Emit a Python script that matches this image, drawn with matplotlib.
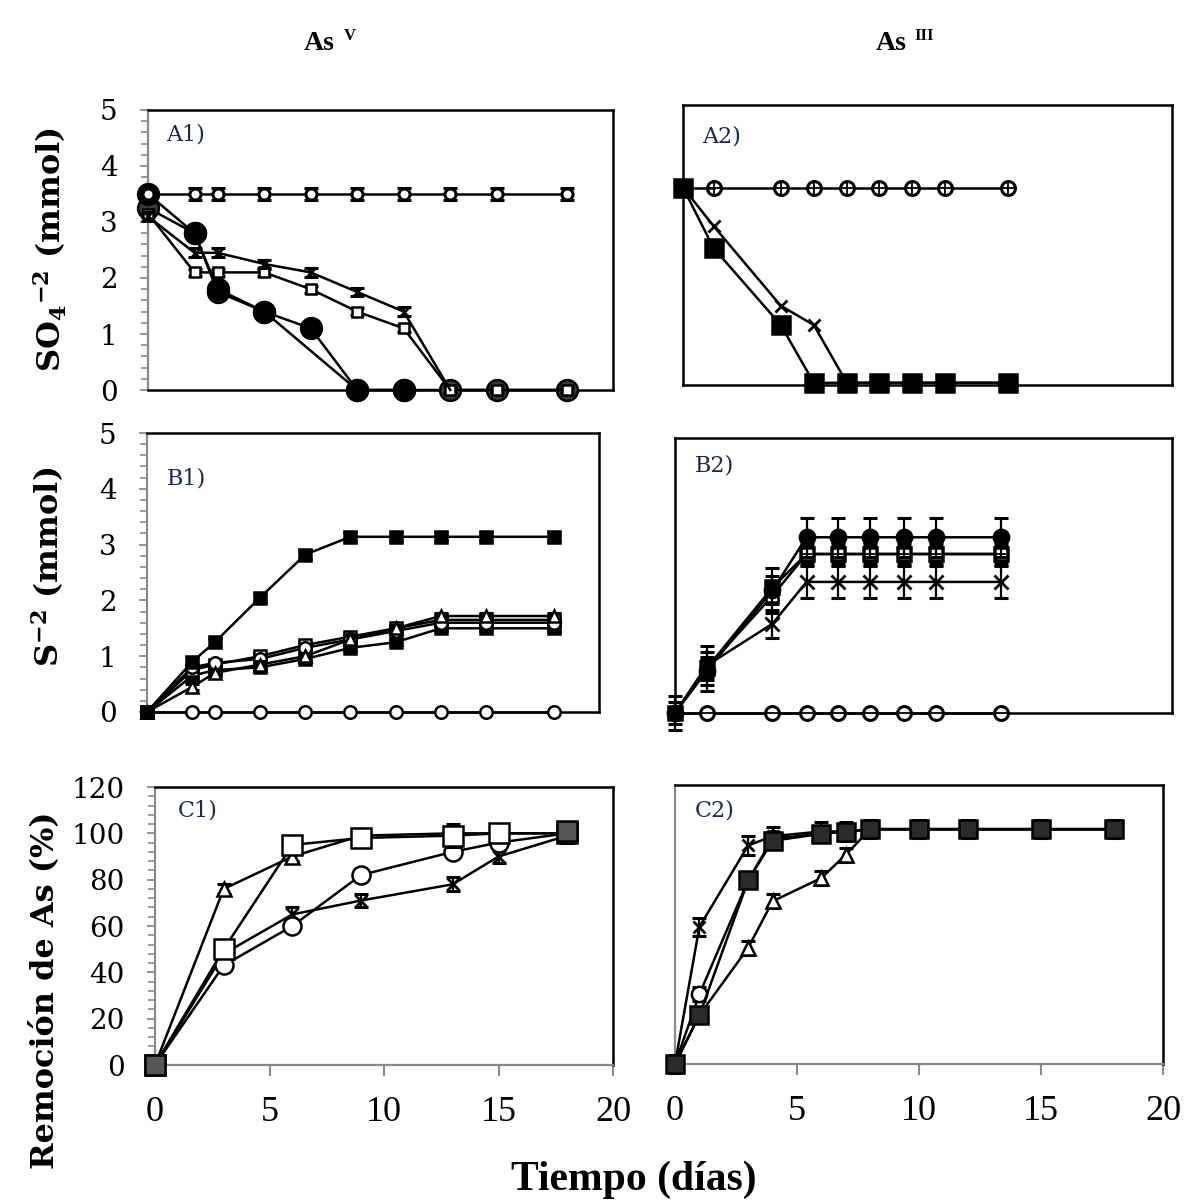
import matplotlib
matplotlib.use('Agg')
import matplotlib.pyplot as plt
from matplotlib.ticker import MultipleLocator

plt.rcParams['mathtext.fontset'] = 'custom'
plt.rcParams['mathtext.rm'] = 'DejaVu Serif:bold'
plt.rcParams['mathtext.bf'] = 'DejaVu Serif:bold'
plt.rcParams['mathtext.it'] = 'DejaVu Serif:bold'

# ---------------- data ----------------
# Panel A1 (sulfate, As V)
A1_days = [0, 2, 3, 5, 7, 9, 11, 13, 15, 18]
A1_ctrl = [3.5, 3.5, 3.5, 3.5, 3.5, 3.5, 3.5, 3.5, 3.5, 3.5]
A1_xm = [3.1, 2.45, 2.45, 2.25, 2.1, 1.75, 1.4, 0, 0, 0]
A1_sq = [3.15, 2.1, 2.1, 2.1, 1.8, 1.4, 1.1, 0, 0, 0]
A1_fc_days = [0, 2, 3, 5, 7, 9, 11]
A1_fc = [3.5, 2.8, 1.8, 1.4, 1.1, 0, 0]
A1_fc2_days = [0, 2, 3, 5, 9, 11, 13, 15, 18]
A1_fc2 = [3.25, 2.8, 1.75, 1.4, 0, 0, 0, 0, 0]

# Panel A2 (sulfate, As III)
A2_days = [0, 1.25, 4, 5.35, 6.7, 8, 9.35, 10.7, 13.3]
A2_ctrl = [3.55, 3.55, 3.55, 3.55, 3.55, 3.55, 3.55, 3.55, 3.55]
A2_fs = [3.55, 2.45, 1.05, 0, 0, 0, 0, 0, 0]
A2_xm = [3.55, 2.85, 1.4, 1.05, 0, 0, 0, 0, 0]

# Panel B1 (sulfide, As V)
B1_days = [0, 2, 3, 5, 7, 9, 11, 13, 15, 18]
B1_ctrl = [0, 0, 0, 0, 0, 0, 0, 0, 0, 0]
B1_fs = [0, 0.9, 1.25, 2.05, 2.82, 3.14, 3.14, 3.14, 3.14, 3.14]
B1_tri = [0, 0.45, 0.7, 0.85, 1.0, 1.3, 1.5, 1.72, 1.72, 1.72]
B1_oc = [0, 0.8, 0.88, 0.95, 1.15, 1.3, 1.45, 1.6, 1.6, 1.6]
B1_sq = [0, 0.75, 0.85, 1.0, 1.2, 1.35, 1.5, 1.65, 1.65, 1.65]
B1_xm = [0, 0.65, 0.75, 0.8, 0.95, 1.15, 1.25, 1.5, 1.5, 1.5]

# Panel B2 (sulfide, As III)
B2_days = [0, 1.3, 4, 5.4, 6.7, 8, 9.4, 10.7, 13.4]
B2_ctrl = [0, 0, 0, 0, 0, 0, 0, 0, 0]
B2_fc = [0, 0.75, 2.2, 3.15, 3.15, 3.15, 3.15, 3.15, 3.15]
B2_fc_err = [0.3, 0.35, 0.4, 0.35, 0.35, 0.35, 0.35, 0.35, 0.35]
B2_sq = [0, 0.8, 2.1, 2.85, 2.85, 2.85, 2.85, 2.85, 2.85]
B2_fs = [0, 0.8, 2.25, 2.85, 2.85, 2.85, 2.85, 2.85, 2.85]
B2_xm = [0, 0.85, 1.6, 2.35, 2.35, 2.35, 2.35, 2.35, 2.35]
B2_xm_err = [0.1, 0.35, 0.25, 0.28, 0.28, 0.28, 0.28, 0.28, 0.28]

# Panel C1 (As removal, As V)
C1_days = [0, 3, 6, 9, 13, 15, 18]
C1_tri = [0, 76, 90, 99, 100, 100, 100]
C1_sq = [0, 50, 95, 98, 99, 100, 100]
C1_circ = [0, 43, 60, 82, 92, 96, 100]
C1_xm = [0, 48, 65, 71, 78, 90, 99]
C1_pat_days = [0, 18]
C1_pat = [0, 101]

# Panel C2 (As removal, As III)
C2_days = [0, 1, 3, 4, 6, 7, 8, 10, 12, 15, 18]
C2_xm = [0, 59, 94, 98, 100, 100, 101, 101, 101, 101, 101]
C2_circ = [0, 30, 79, 97, 99, 100, 101, 101, 101, 101, 101]
C2_sq = [0, 21, 79, 96, 99, 100, 101, 101, 101, 101, 101]
C2_tri = [0, 21, 50, 70, 80, 90, 101, 101, 101, 101, 101]

# ---------------- figure ----------------
W, H = 1202, 1201
fig = plt.figure(figsize=(W / 100, H / 100), dpi=100)
GRAY = '#8a8a8a'
TICKFONT = 'DejaVu Serif'


def axpx(l, r, t, b):
    return fig.add_axes([l / W, 1 - b / H, (r - l) / W, (b - t) / H])


def style(ax, xlim, ylim, gray_left=True, ylab=None, yminor=None, xlab=False, gray_bottom=False):
    ax.set_xlim(*xlim)
    ax.set_ylim(*ylim)
    for s in ax.spines.values():
        s.set_linewidth(1.8)
        s.set_color('black')
    if gray_left:
        ax.spines['left'].set_color(GRAY)
        ax.spines['left'].set_linewidth(1.6)
    if gray_bottom:
        ax.spines['bottom'].set_color(GRAY)
        ax.spines['bottom'].set_linewidth(1.6)
    if ylab is not None:
        ax.set_yticks(ylab)
        ax.yaxis.set_minor_locator(MultipleLocator(yminor))
        ax.tick_params(axis='y', which='major', direction='out', length=6, width=1.3,
                       color=GRAY, pad=16, labelsize=20)
        ax.tick_params(axis='y', which='minor', direction='out', length=5, width=1.2, color=GRAY)
        for t in ax.get_yticklabels():
            t.set_fontfamily(TICKFONT)
    else:
        ax.set_yticks([])
    if xlab:
        ax.set_xticks([0, 5, 10, 15, 20])
        ax.tick_params(axis='x', which='major', direction='out', length=8, width=1.5,
                       color=GRAY, pad=14, labelsize=26)
        for t in ax.get_xticklabels():
            t.set_fontfamily('Liberation Serif')
    else:
        ax.set_xticks([])


def series(ax, x, y, err=None, marker='o', ms=8, mfc='white', mec='black', mew=1.8,
           lw=1.8, z=3, overlay=None, ls='-'):
    if err is not None:
        c = ax.errorbar(x, y, yerr=err, fmt='none', ecolor='black', elinewidth=1.6,
                        capsize=5, capthick=2.2, zorder=z)
        for a in c.get_children():
            a.set_clip_on(False)
    ax.plot(x, y, ls=ls, color='black', lw=lw, marker=marker, ms=ms, mfc=mfc, mec=mec,
            mew=mew, zorder=z, clip_on=False)
    if overlay:
        ax.plot(x, y, ls='none', marker=overlay, ms=ms * 0.8, mec='black', mew=1.3,
                zorder=z + 0.05, clip_on=False)


# ---- A1 ----
axA1 = axpx(148, 613, 110, 390)
style(axA1, (0, 20), (0, 5), ylab=[0, 1, 2, 3, 4, 5], yminor=0.2)
series(axA1, A1_fc2_days, A1_fc2, marker='o', ms=15, mfc='#3a3a3a', z=3)
series(axA1, A1_fc_days, A1_fc, marker='o', ms=15, mfc='black', z=3.1)
series(axA1, A1_days, A1_sq, err=0.06, marker='s', ms=7, mfc='white', z=3.2)
series(axA1, A1_days[:7], A1_xm[:7], err=0.08, marker='x', ms=7, z=3.3)
axA1.plot(A1_days[6:8], A1_xm[6:8], color='black', lw=1.8, zorder=3.3, clip_on=False)
series(axA1, A1_days, A1_ctrl, err=0.1, marker='o', ms=8, mfc='white', mew=2.2, z=3.4)

# ---- A2 ----
axA2 = axpx(683, 1172, 105, 385)
style(axA2, (0, 20), (-0.04, 5.05), gray_left=False)
series(axA2, A2_days[1:], A2_ctrl[1:], marker='o', ms=10, mfc='white', mew=2.2, z=3, overlay='+')
axA2.plot(A2_days[:2], A2_ctrl[:2], color='black', lw=1.8, zorder=3)
series(axA2, A2_days, A2_xm, marker='x', ms=9, mew=2.0, z=3.1)
series(axA2, A2_days, A2_fs, marker='s', ms=13, mfc='black', z=3.2)

# ---- B1 ----
axB1 = axpx(147, 599, 433, 712)
style(axB1, (0, 20), (0, 5), ylab=[0, 1, 2, 3, 4, 5], yminor=0.2)
series(axB1, B1_days, B1_ctrl, marker='o', ms=9, mfc='white', z=3)
series(axB1, B1_days, B1_xm, err=0.05, marker='s', ms=9, mfc='black', z=3.1)
series(axB1, B1_days, B1_sq, err=0.05, marker='s', ms=8, mfc='white', z=3.2)
series(axB1, B1_days, B1_oc, err=0.05, marker='o', ms=9, mfc='white', z=3.3)
series(axB1, B1_days, B1_tri, err=0.06, marker='^', ms=9, mfc='white', z=3.4)
series(axB1, B1_days, B1_fs, err=0.08, marker='s', ms=9, mfc='black', z=3.5)

# ---- B2 ----
axB2 = axpx(675, 1172, 438, 713)
style(axB2, (0, 20.4), (0, 4.93), gray_left=False)
series(axB2, B2_days, B2_ctrl, marker='o', ms=10, mfc='white', mew=2.2, z=3, overlay='_')
series(axB2, B2_days, B2_xm, err=B2_xm_err, marker='x', ms=10, mew=2.0, z=3.1)
series(axB2, B2_days, B2_fs, err=0.2, marker='s', ms=10, mfc='black', z=3.2)
series(axB2, B2_days[1:], B2_sq[1:], err=0.15, marker='s', ms=9, mfc='white', z=3.3, overlay='+')
series(axB2, B2_days, B2_fc, err=B2_fc_err, marker='o', ms=11, mfc='black', z=3.4)

# ---- C1 ----
axC1 = axpx(155, 613, 787, 1065)
style(axC1, (0, 20), (0, 120), ylab=[0, 20, 40, 60, 80, 100, 120], yminor=4,
      xlab=True, gray_bottom=True)
series(axC1, C1_days, C1_xm, err=3, marker='x', ms=8, mew=2.0, z=3)
series(axC1, C1_days, C1_circ, err=2, marker='o', ms=13, mfc='white', z=3.1)
series(axC1, C1_days, C1_tri, err=2, marker='^', ms=10, mfc='white', z=3.2)
series(axC1, C1_days, C1_sq, err=[0, 3, 4, 2, 5, 3, 2], marker='s', ms=15, mfc='white', z=3.3)
series(axC1, C1_pat_days, C1_pat, marker='s', ms=14, mfc='#555555', ls='none', z=3.4)

# ---- C2 ----
axC2 = axpx(675, 1163, 785, 1064)
style(axC2, (0, 20), (0, 120), gray_left=True, xlab=True, gray_bottom=True)
series(axC2, C2_days, C2_tri, err=3, marker='^', ms=10, mfc='white', z=3)
series(axC2, C2_days, C2_circ, err=3, marker='o', ms=11, mfc='white', z=3.1)
series(axC2, C2_days, C2_xm, err=4, marker='x', ms=9, mew=2.0, z=3.2)
series(axC2, C2_days, C2_sq, err=2, marker='s', ms=13, mfc='#2a2a2a', z=3.3)

# ---- panel labels ----
lab_kw = dict(fontsize=16, family='DejaVu Serif', color='#1b2a4a', ha='left', va='center')
for txt, x, y in [('A1)', 166, 135), ('A2)', 702, 137), ('B1)', 167, 478),
                  ('B2)', 695, 466), ('C1)', 178, 810), ('C2)', 695, 810)]:
    fig.text(x / W, 1 - y / H, txt, **lab_kw)

# ---- column headers ----
hdr = dict(fontsize=20, family='Liberation Serif', fontweight='bold', va='center', ha='left')
sup = dict(fontsize=12, family='Liberation Serif', fontweight='bold', va='center', ha='left')
fig.text(304 / W, 1 - 43 / H, 'As', **hdr)
fig.text(344 / W, 1 - 36 / H, 'V', **sup)
fig.text(876 / W, 1 - 43 / H, 'As', **hdr)
fig.text(914 / W, 1 - 36 / H, 'III', **sup)

# ---- axis titles ----
yl = dict(rotation=90, ha='center', va='center', fontsize=23, family='DejaVu Serif',
          fontweight='bold')
fig.text(50 / W, 1 - 250 / H, r'SO$_4$$^{-2}$ (mmol)', **yl)
fig.text(48 / W, 1 - 567 / H, r'S$^{-2}$ (mmol)', **yl)
fig.text(45 / W, 1 - 990 / H, 'Remoción de As (%)', **yl)
fig.text(634 / W, 1 - 1180 / H, 'Tiempo (días)', ha='center', va='center', fontsize=30,
         family='Liberation Serif', fontweight='bold')

fig.savefig('out.png', dpi=100)
